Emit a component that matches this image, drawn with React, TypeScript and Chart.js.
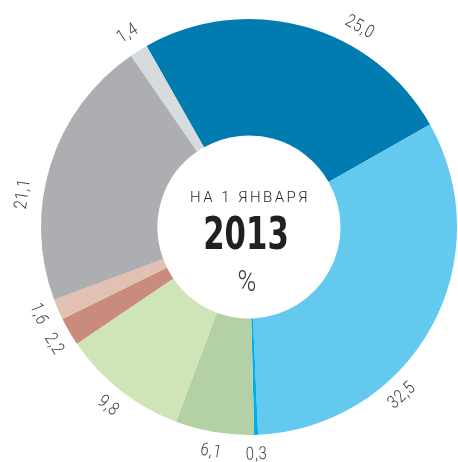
import React, { useEffect, useRef } from "react";
import { Chart, registerables } from "chart.js";

Chart.register(...registerables);

const categories = ["A", "B", "C", "D", "E", "F", "G", "H", "I"];
const values = [25.0, 32.5, 0.3, 6.1, 9.8, 2.2, 1.6, 21.1, 1.4];
const valueLabels = ["25,0", "32,5", "0,3", "6,1", "9,8", "2,2", "1,6", "21,1", "1,4"];
const colors = ["#007CB0", "#64C9EF", "#00AEEF", "#B4D0A6", "#CFE5B8", "#C98B7E", "#E2C0B3", "#ADAEB1", "#D8DBDE"];
const labelAnchor = [0.65, 0.66, 0.5, 0.5, 0.5, 0.4, 0.65, 0.38, 0.5];
const centerLines = ["НА 1 ЯНВАРЯ", "2013", "%"];

const labelPlugin = {
  id: "labelPlugin",
  afterDraw(chart: any) {
    const ctx = chart.ctx;
    const meta = chart.getDatasetMeta(0);
    ctx.save();
    ctx.fillStyle = "#3a3a3a";
    ctx.font = "300 18px Roboto, 'DejaVu Sans', sans-serif";
    (ctx as any).letterSpacing = "1px";
    ctx.textAlign = "center";
    ctx.textBaseline = "middle";
    let cx = 0, cy = 0;
    meta.data.forEach((arc: any, i: number) => {
      const p = arc.getProps(["x", "y", "startAngle", "endAngle", "outerRadius"], true);
      cx = p.x; cy = p.y;
      const a = p.startAngle + labelAnchor[i] * (p.endAngle - p.startAngle);
      const r = p.outerRadius + 20;
      const x = p.x + Math.cos(a) * r;
      const y = p.y + Math.sin(a) * r;
      let rot = a + Math.PI / 2;
      while (rot > Math.PI) rot -= 2 * Math.PI;
      while (rot < -Math.PI) rot += 2 * Math.PI;
      if (rot > Math.PI / 2) rot -= Math.PI;
      if (rot < -Math.PI / 2) rot += Math.PI;
      ctx.save();
      ctx.translate(x, y);
      ctx.rotate(rot);
      ctx.scale(0.82, 1);
      ctx.fillText(valueLabels[i], 0, 0);
      ctx.restore();
    });
    // center text
    ctx.fillStyle = "#231f20";
    (ctx as any).letterSpacing = "2.5px";
    ctx.font = "300 15px Roboto, 'DejaVu Sans', sans-serif";
    ctx.fillText(centerLines[0], cx + 1, cy - 29);
    (ctx as any).letterSpacing = "0px";
    ctx.save();
    ctx.translate(cx - 3, cy + 10);
    ctx.scale(0.76, 1);
    ctx.font = "bold 45px 'Liberation Sans Narrow', 'DejaVu Sans Condensed', sans-serif";
    ctx.fillText(centerLines[1], 0, 0);
    ctx.restore();
    ctx.fillStyle = "#3a3a3a";
    ctx.save();
    ctx.translate(cx - 2, cy + 56);
    ctx.scale(0.85, 1);
    ctx.font = "300 30px Roboto, 'DejaVu Sans', sans-serif";
    ctx.fillText(centerLines[2], 0, 0);
    ctx.restore();
    ctx.restore();
  },
};

export default function App() {
  const ref = useRef<HTMLCanvasElement>(null);
  useEffect(() => {
    if (!ref.current) return;
    const chart = new Chart(ref.current, {
      type: "doughnut",
      data: {
        labels: categories,
        datasets: [
          {
            data: values,
            backgroundColor: colors,
            borderWidth: 0,
            hoverOffset: 0,
          },
        ],
      },
      options: {
        responsive: false,
        animation: false,
        rotation: -29.5,
        cutout: "44%",
        layout: { padding: { left: 41, right: 1, top: 19, bottom: 27 } },
        plugins: { legend: { display: false }, tooltip: { enabled: false } },
      },
      plugins: [labelPlugin],
    });
    return () => chart.destroy();
  }, []);
  return (
    <div style={{ position: "absolute", left: 0, top: 0, width: 458, height: 462, background: "#fff" }}>
      <canvas ref={ref} width={458} height={462} style={{ display: "block" }} />
    </div>
  );
}
